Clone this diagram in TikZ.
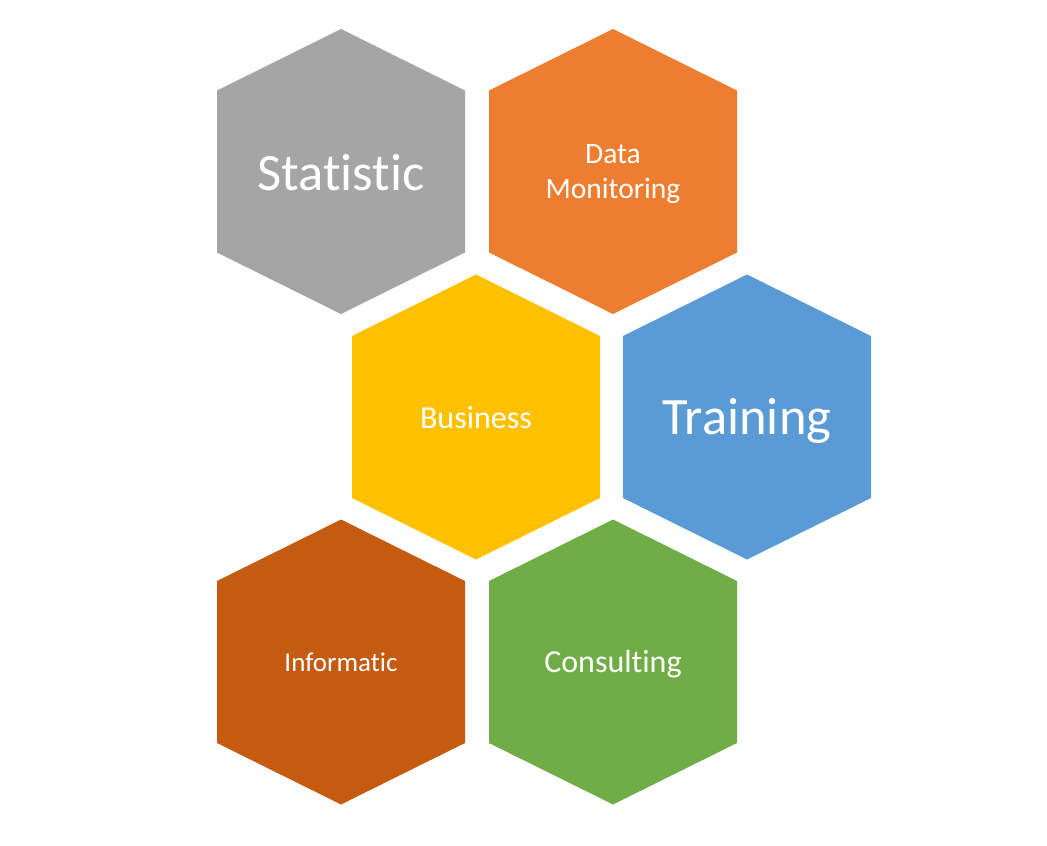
\documentclass[tikz,border=0pt]{standalone}
\usepackage{fontspec}
\setmainfont{Carlito}[Ligatures=NoCommon]
\definecolor{hexgray}{HTML}{A5A5A5}
\definecolor{hexorange}{HTML}{ED7D31}
\definecolor{hexyellow}{HTML}{FFC000}
\definecolor{hexblue}{HTML}{5B9BD5}
\definecolor{hexrust}{HTML}{C55A11}
\definecolor{hexgreen}{HTML}{70AD47}
\begin{document}
\begin{tikzpicture}[x=1pt,y=-1pt,
  hexlabel/.style={text=white, align=center, inner sep=0pt},
  big/.style={font=\fontsize{52.5}{62}\selectfont},
  mid/.style={font=\fontsize{32}{36}\selectfont},
  small/.style={font=\fontsize{27}{32}\selectfont}]
\useasboundingbox (0,0) rectangle (1047,846);
% one hexagon with pointed top and bottom, centred on a given point
\newcommand\hexcell[2]{%
  \fill[#2, shift={#1}] (0,-142.5) -- (124,-81) -- (124,81) -- (0,142.5)
    -- (-124,81) -- (-124,-81) -- cycle;}
\coordinate (cStat) at (341,171.5);
\coordinate (cData) at (613,171.5);
\coordinate (cBus)  at (476,417);
\coordinate (cTrain) at (747,417);
\coordinate (cInf)  at (341,662);
\coordinate (cCons) at (613,662);
\hexcell{(cStat)}{hexgray}
\hexcell{(cData)}{hexorange}
\hexcell{(cBus)}{hexyellow}
\hexcell{(cTrain)}{hexblue}
\hexcell{(cInf)}{hexrust}
\hexcell{(cCons)}{hexgreen}
\node[hexlabel, big]   (stat)  at ([yshift=-1pt]cStat)  {Statistic};
\node[hexlabel, font=\fontsize{29.5}{35}\selectfont] (data) at ([yshift=-3pt]cData) {Data\\Monitoring};
\node[hexlabel, mid]   (bus)   at ([yshift=-0.5pt]cBus)   {Business};
\node[hexlabel, big]   (train) at ([yshift=-4pt]cTrain) {Training};
\node[hexlabel, small] (inf)   at (cInf)   {Informatic};
\node[hexlabel, mid]   (cons)  at ([yshift=-2pt]cCons)  {Consulting};
\end{tikzpicture}
\end{document}
